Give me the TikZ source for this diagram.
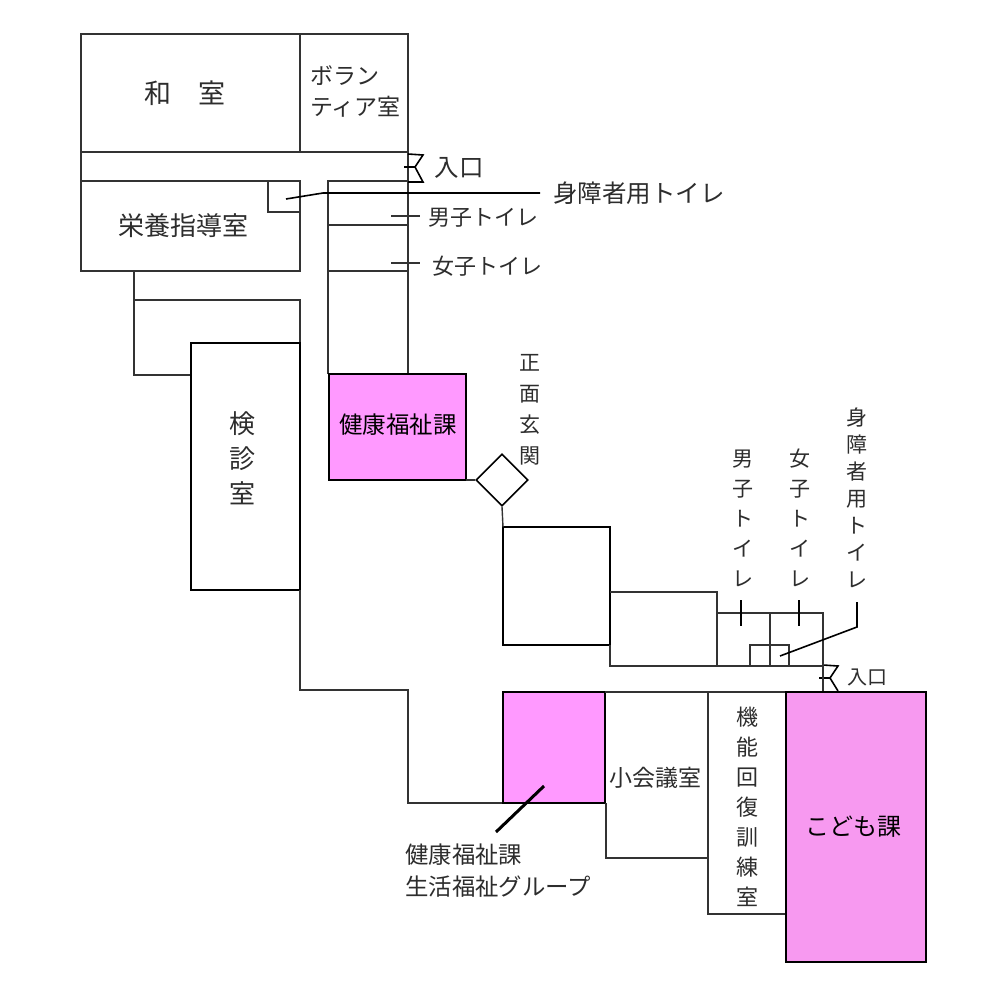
\documentclass[tikz,border=0pt]{standalone}
\usepackage{fontspec}
\setmainfont{Noto Sans CJK JP}
\usepackage{tikz}
\usetikzlibrary{shapes.geometric}
\definecolor{deptpink}{RGB}{255,153,255}
\definecolor{kidspink}{RGB}{247,153,240}
\definecolor{inkgray}{RGB}{45,45,45}
\newcommand{\fs}[1]{\fontsize{#1}{#1}\selectfont}
\tikzset{
	wall/.style={line width=1.4pt,draw=black!80},
	bold/.style={line width=2pt,draw=black},
	leader/.style={line width=1.6pt,draw=black},
	lbl/.style={inner sep=0pt,text=inkgray,align=center},
}

\begin{document}
\begin{tikzpicture}[x=1pt,y=-1pt]
	\useasboundingbox (0,0) rectangle (1000,980);
		% upper block
		\draw[wall] (81,34) rectangle (408,152);
		\draw[wall] (300,34) -- (300,152);
		\draw[wall] (81,152) -- (81,181);
		\draw[wall] (81,181) rectangle (300,271);
		\draw[wall] (268,181) rectangle (300,212);
		\draw[wall] (408,152) -- (408,374);
		\draw[wall] (408,181) -- (328,181) -- (328,374);
		\draw[wall] (328,225) -- (408,225);
		\draw[wall] (328,271) -- (408,271);
		\draw[wall] (134,271) -- (134,375) -- (191,375);
		\draw[wall] (134,300) -- (300,300) -- (300,343);
		\draw[bold,line width=1.6pt] (191,343) rectangle (300,590);
		\draw[wall] (300,590) -- (300,690) -- (408,690) -- (408,803) -- (503,803);
		% entrance marks
		\draw[leader] (408,154) -- (423,155) -- (415,167) -- (423,182) -- (408,182);
		\draw[leader] (404,167) -- (415,167);
		\draw[leader] (823,665) -- (838,666) -- (830,678) -- (838,691);
		\draw[leader] (819,678) -- (830,678);
		% coloured rooms
		\draw[bold,fill=deptpink] (329,374) rectangle (466,480);
		\draw[bold,fill=deptpink] (503,692) rectangle (605,803);
		\draw[wall] (605,692) -- (786,692);
		\draw[wall] (606,803) -- (606,858) -- (708,858);
		\draw[wall] (708,692) -- (708,914) -- (786,914);
		\draw[bold,fill=kidspink] (786,692) rectangle (926,962);
		% front entrance
		\node[draw=black,line width=1.6pt,shape=diamond,minimum size=52pt,inner sep=0pt] (genkan) at (502,480) {};
		\node[bold,minimum width=107pt,minimum height=118pt,inner sep=0pt] (lobby) at (556.5,586) {};
		\draw[wall] (466,480) -- (genkan.west);
		\draw[wall] (genkan.south) -- (503,527);
		% toilets on the lower side
		\draw[wall] (610,592) -- (717,592) -- (717,666);
		\draw[wall] (610,645) -- (610,666) -- (823,666);
		\draw[wall] (717,613) -- (823,613) -- (823,691);
		\draw[wall] (770,613) -- (770,666);
		\draw[wall] (750,666) -- (750,645) -- (789,645) -- (789,666);
		\draw[leader] (741,600) -- (741,626);
		\draw[leader] (799,600) -- (799,626);
		\draw[leader] (857,602) -- (857,627) -- (780,656);
		% upper leaders
		\draw[leader] (286,199) -- (323,193) -- (540,193);
		\draw[wall] (391,216) -- (420,216);
		\draw[wall] (391,263) -- (420,263);
		\draw[line width=3pt] (544,786) -- (496,832);
		% labels
		\node[lbl,font=\fs{27}] (washitsu) at (185,93) {和　室};
		\node[lbl,font=\fs{23},align=left,anchor=north west] (volunteer) at (310,65) {ボラン\\[8pt]ティア室};
		\node[lbl,font=\fs{26}] (eiyo) at (183,226) {栄養指導室};
		\node[lbl,font=\fs{24.5}] (iriguchi1) at (459,168) {入口};
		\node[lbl,font=\fs{24.5}] (shinsho1) at (639,193) {身障者用トイレ};
		\node[lbl,font=\fs{22}] (danshi1) at (483,218) {男子トイレ};
		\node[lbl,font=\fs{22}] (joshi1) at (487,266) {女子トイレ};
		\node[lbl,font=\fs{26}] (kenshin) at (242,458) {検\\[9pt]診\\[9pt]室};
		\node[lbl,font=\fs{23.5},text=black] (kenko) at (398,425) {健康福祉課};
		\node[lbl,font=\fs{21}] (shomen) at (530,410) {正\\[10pt]面\\[10pt]玄\\[10pt]関};
		\node[lbl,font=\fs{21}] (danshi2) at (743,518) {男\\[9pt]子\\[9pt]ト\\[9pt]イ\\[9pt]レ};
		\node[lbl,font=\fs{21}] (joshi2) at (800,518) {女\\[9pt]子\\[9pt]ト\\[9pt]イ\\[9pt]レ};
		\node[lbl,font=\fs{21}] (shinsho2) at (857,498) {身\\[6pt]障\\[6pt]者\\[6pt]用\\[6pt]ト\\[6pt]イ\\[6pt]レ};
		\node[lbl,font=\fs{20}] (iriguchi2) at (867,677) {入口};
		\node[lbl,font=\fs{23}] (kaigi) at (655,778) {小会議室};
		\node[lbl,font=\fs{22}] (kino) at (747,807) {機\\[8pt]能\\[8pt]回\\[8pt]復\\[8pt]訓\\[8pt]練\\[8pt]室};
		\node[lbl,font=\fs{24},text=black] (kodomo) at (853,827) {こども課};
		\node[lbl,font=\fs{23.4},align=left,anchor=north west] (seikatsu) at (405,844) {健康福祉課\\[8pt]生活福祉グループ};
	\end{tikzpicture}
\end{document}
